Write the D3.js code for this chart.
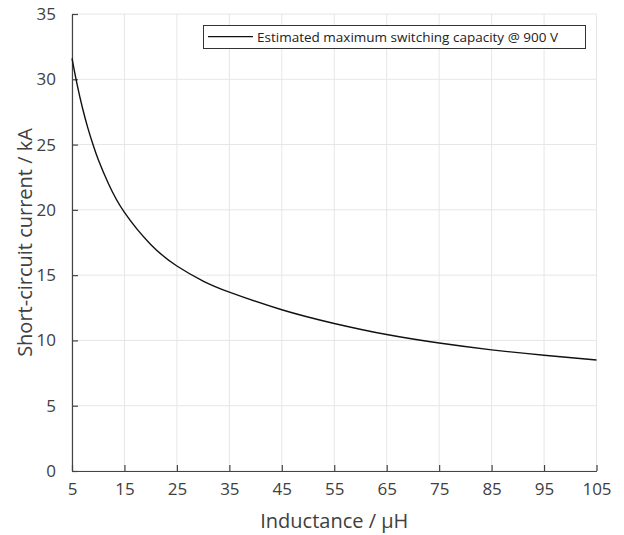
<!DOCTYPE html>
<html>
<head>
<meta charset="utf-8">
<script src="https://cdn.jsdelivr.net/npm/d3@7"></script>
<style>
  body { margin: 0; background: #fff; }
  text { font-family: "Open Sans", sans-serif; fill: #404040; }
</style>
</head>
<body>
<svg width="624" height="535"></svg>
<script>
var svg = d3.select('svg');

// inductance in uH
var inductance = [5, 6, 7, 8, 9, 10, 12, 15, 20, 25, 30, 35, 45, 55, 65, 75, 85, 95, 105];
// short-circuit current in kA
var current = [31.6, 29.55, 27.8, 26.3, 25.0, 23.86, 21.96, 19.8, 17.35, 15.7, 14.55, 13.7, 12.35, 11.3, 10.45, 9.8, 9.28, 8.86, 8.5];

var xTicks = [5, 15, 25, 35, 45, 55, 65, 75, 85, 95, 105];
var yTicks = [0, 5, 10, 15, 20, 25, 30, 35];
var seriesName = 'Estimated maximum switching capacity @ 900 V';

var plotLeft = 72, plotRight = 596.5, plotTop = 14, plotBottom = 471;

var x = d3.scaleLinear().domain([5, 105]).range([plotLeft, plotRight]);
var y = d3.scaleLinear().domain([0, 35]).range([plotBottom, plotTop]);

// grid
svg.append('g')
  .selectAll('line')
  .data(xTicks)
  .enter()
  .append('line')
  .attr('x1', function(d){ return x(d); })
  .attr('x2', function(d){ return x(d); })
  .attr('y1', plotTop)
  .attr('y2', plotBottom)
  .attr('stroke', '#e6e6e6')
  .attr('stroke-width', 1);

svg.append('g')
  .selectAll('line')
  .data(yTicks)
  .enter()
  .append('line')
  .attr('x1', plotLeft)
  .attr('x2', plotRight)
  .attr('y1', function(d){ return y(d); })
  .attr('y2', function(d){ return y(d); })
  .attr('stroke', '#e6e6e6')
  .attr('stroke-width', 1);

// axes, ticks pointing inward
var xAxis = svg.append('g')
  .attr('transform', 'translate(0,' + plotBottom + ')')
  .call(d3.axisBottom(x).tickValues(xTicks).tickSizeInner(-6).tickSizeOuter(0).tickPadding(12));

var yAxis = svg.append('g')
  .attr('transform', 'translate(' + plotLeft + ',0)')
  .call(d3.axisLeft(y).tickValues(yTicks).tickSizeInner(-6).tickSizeOuter(0).tickPadding(16));

[xAxis, yAxis].forEach(function(a){
  a.select('.domain').attr('stroke', '#444').attr('stroke-width', 1.2);
  a.selectAll('.tick line').attr('stroke', '#444').attr('stroke-width', 1.2);
  a.selectAll('.tick text')
    .attr('fill', '#404040')
    .style('font-family', '"Open Sans", sans-serif')
    .style('font-size', '17px');
});

// curve
var line = d3.line()
  .x(function(d, i){ return x(inductance[i]); })
  .y(function(d){ return y(d); })
  .curve(d3.curveNatural);

svg.append('path')
  .datum(current)
  .attr('d', line)
  .attr('fill', 'none')
  .attr('stroke', '#111')
  .attr('stroke-width', 1.4);

// axis labels
svg.append('text')
  .attr('x', (plotLeft + plotRight) / 2)
  .attr('y', 528)
  .attr('text-anchor', 'middle')
  .style('font-size', '20px')
  .text('Inductance / µH');

svg.append('text')
  .attr('transform', 'translate(32,' + (plotTop + plotBottom) / 2 + ') rotate(-90)')
  .attr('text-anchor', 'middle')
  .style('font-size', '20px')
  .text('Short-circuit current / kA');

// legend
var legend = svg.append('g');
legend.append('rect')
  .attr('x', 203.5)
  .attr('y', 25.5)
  .attr('width', 382)
  .attr('height', 23)
  .attr('fill', '#fff')
  .attr('stroke', '#333')
  .attr('stroke-width', 1);
legend.append('line')
  .attr('x1', 208)
  .attr('x2', 253)
  .attr('y1', 36.7)
  .attr('y2', 36.7)
  .attr('stroke', '#111')
  .attr('stroke-width', 1.2);
legend.append('text')
  .attr('x', 257)
  .attr('y', 41.5)
  .style('font-size', '13.5px')
  .style('fill', '#222')
  .text(seriesName);
</script>
</body>
</html>
